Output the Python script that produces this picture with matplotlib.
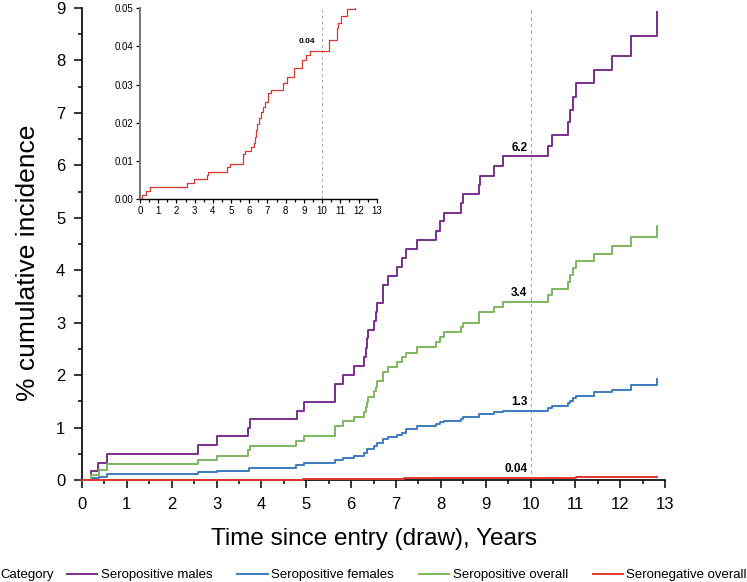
import numpy as np
import matplotlib
matplotlib.use("Agg")
import matplotlib.pyplot as plt
from matplotlib.lines import Line2D
import matplotlib.ticker as ticker

plt.rcParams['font.family'] = ['Liberation Sans', 'DejaVu Sans']

# Data: step points (years, % cumulative incidence)
t_males = [0, 0.19, 0.36, 0.55, 2.58, 3.00, 3.71, 3.75, 4.79, 4.95, 5.64, 5.83, 6.07, 6.29,
           6.33, 6.36, 6.38, 6.52, 6.55, 6.58, 6.72, 6.82, 7.02, 7.14, 7.22, 7.46, 7.89, 7.98,
           8.07, 8.44, 8.50, 8.86, 8.88, 9.19, 9.38, 10.40, 10.47, 10.84, 10.88, 10.94, 11.01,
           11.42, 11.81, 12.23, 12.83]
v_males = [0, 0.17, 0.33, 0.49, 0.66, 0.83, 0.99, 1.16, 1.32, 1.49, 1.83, 2.00, 2.18, 2.35,
           2.52, 2.70, 2.86, 3.04, 3.20, 3.38, 3.72, 3.89, 4.07, 4.24, 4.41, 4.58, 4.75, 4.93,
           5.10, 5.28, 5.46, 5.63, 5.80, 5.98, 6.17, 6.36, 6.57, 6.83, 7.06, 7.31, 7.56,
           7.82, 8.09, 8.46, 8.92]

t_overall = [0, 0.19, 0.38, 0.55, 2.58, 3.00, 3.70, 3.75, 4.78, 4.95, 5.64, 5.83, 6.07, 6.29,
             6.33, 6.36, 6.38, 6.52, 6.55, 6.58, 6.72, 6.82, 7.02, 7.14, 7.22, 7.46, 7.89, 7.98,
             8.07, 8.44, 8.50, 8.86, 9.19, 9.38, 10.40, 10.47, 10.84, 10.88, 10.94, 11.01,
             11.42, 11.81, 12.23, 12.83]
v_overall = [0, 0.10, 0.19, 0.30, 0.38, 0.46, 0.57, 0.65, 0.75, 0.84, 1.03, 1.12, 1.21, 1.30,
             1.40, 1.49, 1.59, 1.69, 1.78, 1.88, 2.05, 2.16, 2.25, 2.34, 2.43, 2.53, 2.63, 2.72,
             2.82, 2.91, 3.00, 3.20, 3.30, 3.40, 3.53, 3.64, 3.78, 3.91, 4.04, 4.17,
             4.31, 4.47, 4.63, 4.85]

t_females = [0, 0.19, 0.38, 0.55, 2.58, 3.00, 3.72, 4.78, 4.95, 5.64, 5.83, 6.07, 6.29, 6.36,
             6.52, 6.58, 6.72, 6.82, 7.02, 7.14, 7.22, 7.46, 7.89, 7.98, 8.07, 8.44, 8.50,
             8.86, 9.19, 9.38, 10.40, 10.47, 10.84, 10.88, 10.94, 11.01, 11.42, 11.81, 12.23, 12.83]
v_females = [0, 0.03, 0.06, 0.11, 0.15, 0.18, 0.23, 0.29, 0.33, 0.38, 0.42, 0.46, 0.52, 0.59,
             0.64, 0.70, 0.78, 0.81, 0.86, 0.90, 0.97, 1.02, 1.06, 1.10, 1.13, 1.17, 1.21,
             1.25, 1.29, 1.32, 1.37, 1.41, 1.46, 1.51, 1.56, 1.61, 1.67, 1.72, 1.81, 1.92]

t_neg = [0, 0.13, 0.33, 0.55, 2.56, 2.98, 3.69, 3.75, 4.77, 4.92, 5.63, 5.79, 6.07, 6.27,
         6.30, 6.36, 6.45, 6.55, 6.66, 6.77, 6.86, 7.04, 7.19, 7.86, 8.05, 8.46, 8.87, 9.14,
         9.36, 10.37, 10.79, 10.88, 11.01, 11.39, 11.81, 12.23, 12.83]
v_neg = [0, 0.001, 0.002, 0.0032, 0.0043, 0.0052, 0.0062, 0.0071, 0.0083, 0.0093, 0.0118, 0.0126,
         0.0137, 0.0147, 0.0163, 0.018, 0.0196, 0.0211, 0.0227, 0.0242, 0.0255, 0.0277, 0.0285,
         0.0303, 0.032, 0.0342, 0.0364, 0.0377, 0.0388, 0.0416, 0.0447, 0.0462, 0.0479, 0.0497,
         0.052, 0.054, 0.056]

labels = ["Seropositive males", "Seropositive females", "Seropositive overall", "Seronegative overall"]
colors = ["#7b2f8c", "#3b7dc1", "#7db85c", "#e2362e"]
at10 = ["6.2", "1.3", "3.4", "0.04"]
at10_y = [6.33, 1.48, 3.57, 0.2]

fig = plt.figure(figsize=(7.47, 5.82), dpi=100)
ax = fig.add_axes([0.1098, 0.1753, 0.7805, 0.811])

series = [(t_males, v_males), (t_females, v_females), (t_overall, v_overall), (t_neg, v_neg)]
for (t, v), c in zip(series, colors):
    ax.step(t, v, where='post', color=c, lw=1.4, zorder=3, clip_on=False)

ax.axvline(10, color='#aaaaaa', lw=0.8, ls=(0, (3, 3)), zorder=0)
for txt, y in zip(at10, at10_y):
    ax.text(9.93, y, txt, ha='right', va='center', fontsize=8.5, fontweight='bold')

ax.set_xlim(0, 13)
ax.set_ylim(0, 9)
ax.xaxis.set_major_locator(ticker.MultipleLocator(1))
ax.xaxis.set_minor_locator(ticker.MultipleLocator(0.5))
ax.yaxis.set_major_locator(ticker.MultipleLocator(1))
ax.yaxis.set_minor_locator(ticker.MultipleLocator(0.5))
ax.tick_params(which='major', direction='out', length=6, width=1.1, labelsize=12, pad=6)
ax.tick_params(which='minor', direction='out', length=3, width=1.1)
for s in ['top', 'right']:
    ax.spines[s].set_visible(False)
for s in ['left', 'bottom']:
    ax.spines[s].set_linewidth(1.2)
ax.set_xlabel("Time since entry (draw), Years", fontsize=17.5, labelpad=12)
ax.set_ylabel("% cumulative incidence", fontsize=19)
ax.yaxis.set_label_coords(-0.072, 0.46)

# inset: seronegative only
ins = fig.add_axes([0.1874, 0.658, 0.317, 0.328])
ins.step(t_neg, v_neg, where='post', color='#d6392e', lw=0.9)
ins.axvline(10, color='#aaaaaa', lw=0.7, ls=(0, (3, 3)), zorder=0)
ins.text(9.6, 0.0412, "0.04", ha='right', va='center', fontsize=6, fontweight='bold')
ins.set_xlim(0, 13)
ins.set_ylim(0, 0.05)
ins.xaxis.set_major_locator(ticker.MultipleLocator(1))
ins.xaxis.set_minor_locator(ticker.MultipleLocator(0.5))
ins.yaxis.set_major_locator(ticker.MultipleLocator(0.01))
ins.yaxis.set_major_formatter(ticker.FormatStrFormatter('%.2f'))
ins.tick_params(which='major', direction='out', length=3, width=0.9, labelsize=7, pad=2)
ins.tick_params(which='minor', direction='out', length=2, width=0.9)
for s in ['top', 'right']:
    ins.spines[s].set_visible(False)
ins.spines['left'].set_color('#777777')
ins.spines['left'].set_linewidth(1.4)
ins.spines['bottom'].set_linewidth(1.0)
ins.patch.set_alpha(0)

# legend at bottom
fig.text(0.0, 0.012, "Category", fontsize=9.5, va='center', ha='left')
handles = [Line2D([0], [0], color=c, lw=1.4) for c in colors]
fig.legend(handles, labels, loc='center right', bbox_to_anchor=(1.0, 0.012), ncol=4,
           frameon=False, fontsize=9.5, handlelength=2.3, handletextpad=0.25,
           columnspacing=1.9, borderaxespad=0, borderpad=0)

fig.savefig("out.png", dpi=100)
